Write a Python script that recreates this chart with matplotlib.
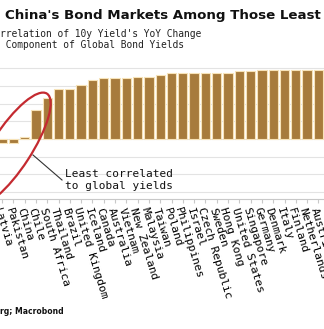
import matplotlib
matplotlib.use("Agg")
import matplotlib.pyplot as plt
from matplotlib.patches import Ellipse
import matplotlib.transforms as mtransforms

countries = ["Latvia", "Pakistan", "China", "Chile", "South Africa", "Thailand",
             "Brazil", "United Kingdom", "Iceland", "Canada", "Australia",
             "Vietnam", "New Zealand", "Malaysia", "Taiwan", "Poland",
             "Philippines", "Israel", "Czech Republic", "Sweden", "Hong Kong",
             "United States", "Singapore", "Germany", "Denmark", "Italy",
             "Finland", "Netherlands", "Austria"]
correlation = [-0.05, -0.05, 0.025, 0.41, 0.58, 0.71, 0.71, 0.76, 0.83, 0.86,
               0.86, 0.86, 0.88, 0.88, 0.90, 0.93, 0.93, 0.94, 0.94, 0.94,
               0.94, 0.96, 0.96, 0.97, 0.97, 0.975, 0.975, 0.98, 0.98]
grid_values = [-0.75, -0.5, -0.25, 0, 0.25, 0.5, 0.75, 1.0]

W, H = 324, 329
DPI = 100
fig = plt.figure(figsize=(W / DPI, H / DPI), dpi=DPI)
fig.patch.set_facecolor("white")

def fx(px):
    return px / W

def fy(py):
    return 1 - py / H

pitch = 11.3
x0 = 2.0
ax = fig.add_axes([0, fy(199.3), 1, fy(61.2) - fy(199.3)])
xs = list(range(len(countries)))
ax.bar(xs, correlation, width=0.82, color="#a77b3c", edgecolor="#f7e3b8",
       linewidth=0.8, zorder=3)
ax.set_xlim((0 - x0) / pitch, (W - x0) / pitch)
ax.set_ylim(-0.853, 1.1)
ax.set_yticks(grid_values)
ax.yaxis.grid(True, color="#e3e3e3", linewidth=0.8, zorder=0)
ax.tick_params(axis="y", left=False, labelleft=False)
for s in ["top", "left", "right"]:
    ax.spines[s].set_visible(False)
ax.spines["bottom"].set_color("#c8c8c8")
ax.spines["bottom"].set_linewidth(0.8)
ax.set_xticks(xs)
ax.set_xticklabels(countries, rotation=-73, ha="left", va="top",
                   rotation_mode="anchor", fontsize=8.1,
                   family="DejaVu Sans Mono", color="#000000")
ax.tick_params(axis="x", length=3, color="#c8c8c8", pad=2)
ax.set_facecolor("white")

# Titles
fig.text(fx(5), fy(16), "China's Bond Markets Among Those Least", fontsize=9.6,
         fontweight="bold", family="DejaVu Sans", color="#111111",
         ha="left", va="center")
fig.text(fx(0), fy(34), "rrelation of 10y Yield's YoY Change", fontsize=6.9,
         family="DejaVu Sans Mono", color="#222222", ha="left", va="center")
fig.text(fx(0), fy(45.5), " Component of Global Bond Yields", fontsize=6.9,
         family="DejaVu Sans Mono", color="#222222", ha="left", va="center")

# Annotation
fig.text(fx(65), fy(180), "Least correlated\nto global yields", fontsize=8,
         family="DejaVu Sans Mono", color="#111111", ha="left", va="center",
         linespacing=1.25)
fig.add_artist(plt.Line2D([fx(33), fx(62)], [fy(155), fy(180)],
                          color="#333333", linewidth=0.8))

px_trans = mtransforms.Affine2D().scale(1 / W, 1 / H) + fig.transFigure
ell = Ellipse((11, H - 149), 132, 40, angle=57, fill=False,
              edgecolor="#c42a30", linewidth=1.6, transform=px_trans)
fig.add_artist(ell)

# Source
fig.text(fx(0), fy(311), "rg; Macrobond", fontsize=5.5, fontweight="bold",
         family="DejaVu Sans", color="#111111", ha="left", va="center")

fig.savefig("out.png", dpi=DPI, facecolor="white")
